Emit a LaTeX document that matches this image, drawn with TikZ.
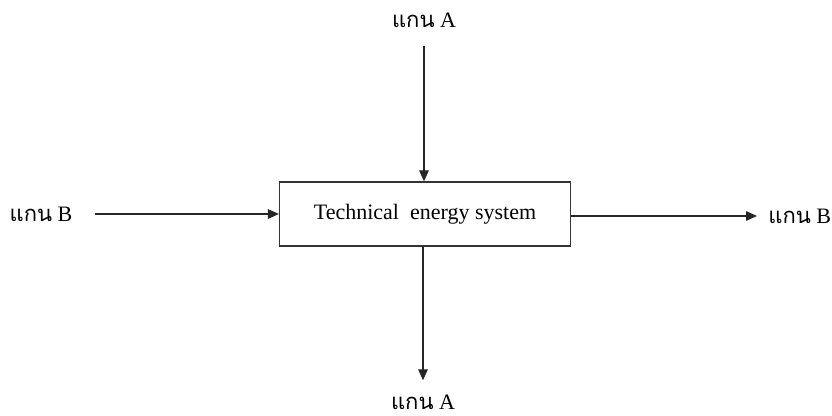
\documentclass[tikz,border=0pt]{standalone}
\usepackage{fontspec}
\setmainfont{Liberation Serif}
\newfontfamily\thaifont[Script=Thai]{Loma}
\usetikzlibrary{arrows.meta,positioning}

\begin{document}
\begin{tikzpicture}[
  >={Triangle[length=5.5pt,width=4.8pt]},
  flow/.style={->,line width=0.6pt,draw=black!85},
  sysbox/.style={rectangle,draw=black!80,line width=0.6pt,minimum width=145.5pt,minimum height=32pt,inner sep=0pt,font=\fontsize{11}{13}\selectfont},
  axis/.style={inner sep=0pt,font=\fontsize{11}{13}\selectfont},
  x=0.5pt,y=-0.5pt]

% page frame
\useasboundingbox (0,0) rectangle (832,416);

% system block
\node[sysbox] (sys) at (425,214) {Technical\ \ energy system};

% axis labels
\node[axis] (atop) at (424,20) {{\thaifont แกน} A};
\node[axis] (abot) at (423,402) {{\thaifont แกน} A};
\node[axis] (bin) at (41,214) {{\thaifont แกน} B};
\node[axis,anchor=west] (bout) at (768,216) {{\thaifont แกน} B};

% flows
\draw[flow,shorten <=9pt] (atop) -- (atop |- sys.north);
\draw[flow,shorten >=7pt] (abot |- sys.south) -- (abot);
\draw[flow,shorten <=11pt] (bin) -- (bin -| sys.west);
\draw[flow,shorten >=5.5pt] (sys.east |- bout) -- (bout);
\end{tikzpicture}
\end{document}
